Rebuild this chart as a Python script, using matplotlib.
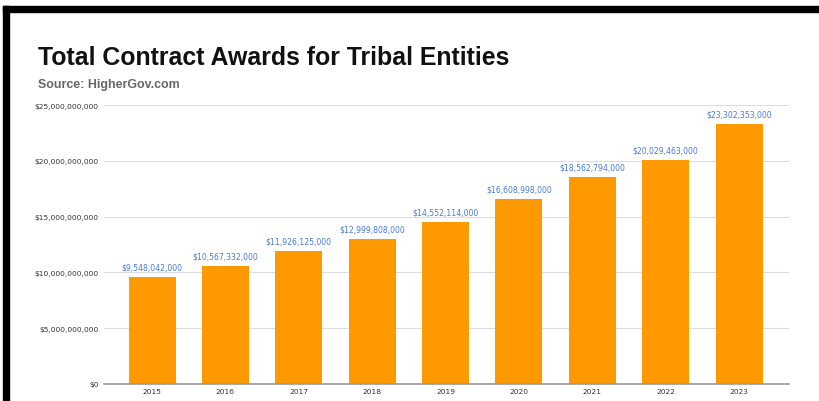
import matplotlib.pyplot as plt
from matplotlib.patches import Rectangle
from matplotlib.ticker import FuncFormatter

# data
years = ['2015', '2016', '2017', '2018', '2019', '2020', '2021', '2022', '2023']
awards = [9548042000, 10567332000, 11926125000, 12999808000, 14552114000,
          16608998000, 18562794000, 20029463000, 23302353000]
y_ticks = [0, 5e9, 10e9, 15e9, 20e9, 25e9]

fig = plt.figure(figsize=(8.19, 4.02), dpi=100)
ax = fig.add_axes([104 / 819, 1 - 385 / 402, 685 / 819, 279 / 402])

x = range(len(years))
ax.bar(x, awards, width=0.64, color='#ff9900', zorder=2)

for xi, v in zip(x, awards):
    ax.annotate('${:,}'.format(v), (xi, v), xytext=(0, 4), textcoords='offset points',
                ha='center', va='bottom', fontsize=5.6, color='#4a7bd6',
                family='DejaVu Sans')

ax.set_xlim(-0.655, 8.68)
ax.set_ylim(0, 25e9)
ax.set_yticks(y_ticks)
ax.yaxis.set_major_formatter(FuncFormatter(lambda v, p: '${:,.0f}'.format(v)))
ax.set_xticks(list(x))
ax.set_xticklabels(years)
ax.tick_params(axis='both', length=0, labelsize=5.4, colors='#333333')
ax.tick_params(axis='x', pad=3)
ax.tick_params(axis='y', pad=4)
ax.grid(axis='y', color='#dddddd', linewidth=0.8, zorder=0)
for s in ['top', 'right', 'left']:
    ax.spines[s].set_visible(False)
ax.spines['bottom'].set_color('#999999')
ax.spines['bottom'].set_linewidth(1.2)

fig.text(38 / 819, 1 - 65 / 402, 'Total Contract Awards for Tribal Entities',
         fontsize=17.9, fontweight='bold', family='Liberation Sans', color='#111111')
fig.text(38 / 819, 1 - 88 / 402, 'Source: HigherGov.com',
         fontsize=8.9, fontweight='bold', family='Liberation Sans', color='#666666')

# black frame edges on top and left
fig.patches.append(Rectangle((3 / 819, 0), 6 / 819, 1 - 7 / 402, transform=fig.transFigure,
                             color='black', zorder=10))
fig.patches.append(Rectangle((3 / 819, 1 - 13 / 402), 1, 6 / 402, transform=fig.transFigure,
                             color='black', zorder=10))

fig.savefig('out.png', dpi=100)
